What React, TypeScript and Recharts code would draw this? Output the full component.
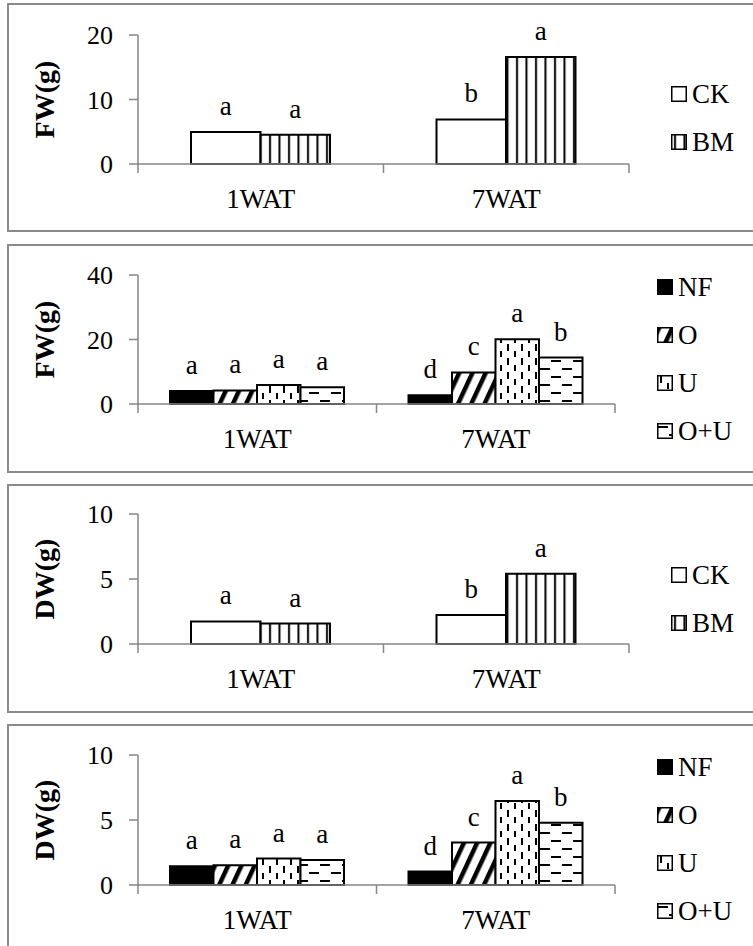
import React from "react";
import { BarChart, Bar, XAxis, YAxis, LabelList, Legend } from "recharts";

// categories
const weeks = ["1WAT", "7WAT"];

// fresh weight, CK vs BM
const fwCK = [4.95, 6.9];
const fwBM = [4.55, 16.6];
const fwCKLetters = ["a", "b"];
const fwBMLetters = ["a", "a"];

// fresh weight, fertiliser treatments
const fwNF = [4.0, 2.7];
const fwO = [4.2, 9.8];
const fwU = [5.9, 20.1];
const fwOU = [5.2, 14.4];

// dry weight, CK vs BM
const dwCK = [1.74, 2.24];
const dwBM = [1.57, 5.4];
const dwCKLetters = ["a", "b"];
const dwBMLetters = ["a", "a"];

// dry weight, fertiliser treatments
const dwNF = [1.44, 1.03];
const dwO = [1.51, 3.26];
const dwU = [2.03, 6.46];
const dwOU = [1.92, 4.79];

// significance letters shared by both fertiliser panels
const nfLetters = ["a", "d"];
const oLetters = ["a", "c"];
const uLetters = ["a", "a"];
const ouLetters = ["a", "b"];

const fwTicksA = [0, 10, 20];
const fwTicksB = [0, 20, 40];
const dwTicks = [0, 5, 10];

const FONT = "'Liberation Serif', 'Times New Roman', serif";
const AXIS = "#868686";
const CHART_W = 753;
const CHART_H = 227;
const XAXIS_H = 40;

const bmSeries = [
  { key: "CK", name: "CK", fill: "#fff" },
  { key: "BM", name: "BM", fill: "url(#pat-bm)" },
];
const fertSeries = [
  { key: "NF", name: "NF", fill: "#000" },
  { key: "O", name: "O", fill: "url(#pat-o)" },
  { key: "U", name: "U", fill: "url(#pat-u)" },
  { key: "OU", name: "O+U", fill: "url(#pat-ou)" },
];

const buildRows = (cols: Record<string, number[]>, letters: Record<string, string[]>) =>
  weeks.map((w, i) => {
    const row: Record<string, string | number> = { week: w };
    Object.keys(cols).forEach((k) => {
      row[k] = cols[k][i];
      row[k + "_l"] = letters[k][i];
    });
    return row;
  });

const rows1 = buildRows({ CK: fwCK, BM: fwBM }, { CK: fwCKLetters, BM: fwBMLetters });
const rows2 = buildRows(
  { NF: fwNF, O: fwO, U: fwU, OU: fwOU },
  { NF: nfLetters, O: oLetters, U: uLetters, OU: ouLetters }
);
const rows3 = buildRows({ CK: dwCK, BM: dwBM }, { CK: dwCKLetters, BM: dwBMLetters });
const rows4 = buildRows(
  { NF: dwNF, O: dwO, U: dwU, OU: dwOU },
  { NF: nfLetters, O: oLetters, U: uLetters, OU: ouLetters }
);

const Patterns = () => (
  <svg width={0} height={0} style={{ position: "absolute" }}>
    <defs>
      <pattern id="pat-bm" patternUnits="userSpaceOnUse" width={9.5} height={10}>
        <rect width={9.5} height={10} fill="#fff" />
        <rect x={3} width={2} height={10} fill="#000" />
      </pattern>
      <pattern id="pat-o" patternUnits="userSpaceOnUse" width={12} height={12} patternTransform="rotate(25)">
        <rect width={12} height={12} fill="#fff" />
        <rect x={0} width={4.5} height={12} fill="#000" />
      </pattern>
      <pattern id="pat-u" patternUnits="userSpaceOnUse" width={14} height={14}>
        <rect width={14} height={14} fill="#fff" />
        <rect x={3} y={1} width={2} height={7} fill="#000" />
        <rect x={10} y={8} width={2} height={6} fill="#000" />
      </pattern>
      <pattern id="pat-ou" patternUnits="userSpaceOnUse" width={22} height={16}>
        <rect width={22} height={16} fill="#fff" />
        <rect x={1} y={3} width={10} height={2} fill="#000" />
        <rect x={12} y={11} width={10} height={2} fill="#000" />
      </pattern>
    </defs>
  </svg>
);

const WeekTick = (props: any) => {
  const { x, y, payload, index, band } = props;
  const last = index === weeks.length - 1;
  return (
    <g>
      <line x1={x - band / 2} x2={x - band / 2} y1={y} y2={y + 9} stroke={AXIS} strokeWidth={1.5} />
      {last && <line x1={x + band / 2} x2={x + band / 2} y1={y} y2={y + 9} stroke={AXIS} strokeWidth={1.5} />}
      <text x={x} y={y + 44} textAnchor="middle" fontSize={27} fontFamily={FONT} fill="#000">
        {payload.value}
      </text>
    </g>
  );
};

const YTitle = (props: any) => {
  const { viewBox, text } = props;
  const cy = viewBox ? viewBox.y + viewBox.height / 2 : 100;
  return (
    <text
      transform={`translate(${54},${cy}) rotate(-90)`}
      textAnchor="middle"
      fontSize={28}
      fontWeight="bold"
      fontFamily={FONT}
      fill="#000"
    >
      {text}
    </text>
  );
};

const LegendBox = (props: any) => {
  const { series } = props;
  return (
    <div style={{ fontFamily: FONT, fontSize: 27, color: "#000" }}>
      {series.map((s: any) => (
        <div key={s.key} style={{ height: 48, display: "flex", alignItems: "center" }}>
          <svg width={16} height={16} style={{ marginRight: 5, flex: "none" }}>
            <rect x={0.75} y={0.75} width={14.5} height={14.5} fill={s.fill} stroke="#000" strokeWidth={1.5} />
          </svg>
          <span style={{ lineHeight: "30px" }}>{s.name}</span>
        </div>
      ))}
    </div>
  );
};

interface PanelProps {
  frameTop: number;
  plotTop: number;
  plotBottom: number;
  plotRight: number;
  barSize: number;
  legendLeft: number;
  rows: Record<string, string | number>[];
  series: { key: string; name: string; fill: string }[];
  ticks: number[];
  title: string;
}

const Panel = ({ frameTop, plotTop, plotBottom, plotRight, barSize, legendLeft, rows, series, ticks, title }: PanelProps) => {
  const left = 138;
  const band = (plotRight - left) / weeks.length;
  const margin = {
    top: plotTop - frameTop,
    right: CHART_W - plotRight,
    bottom: CHART_H - (plotBottom - frameTop) - XAXIS_H,
    left: 0,
  };
  return (
    <>
      <div
        style={{
          position: "absolute",
          left: 7,
          top: frameTop - 1,
          width: 800,
          height: 229,
          border: "2px solid #8a8a8a",
          boxSizing: "border-box",
        }}
      />
      <div style={{ position: "absolute", left: 0, top: frameTop }}>
        <BarChart width={CHART_W} height={CHART_H} data={rows} margin={margin} barGap={0} barSize={barSize}>
          <XAxis
            dataKey="week"
            axisLine={{ stroke: AXIS, strokeWidth: 1.5 }}
            tickLine={false}
            tickSize={0}
            tickMargin={0}
            height={XAXIS_H}
            interval={0}
            tick={<WeekTick band={band} />}
          />
          <YAxis
            type="number"
            domain={[ticks[0], ticks[ticks.length - 1]]}
            ticks={ticks}
            interval={0}
            width={left}
            axisLine={{ stroke: AXIS, strokeWidth: 1.5 }}
            tickLine={{ stroke: AXIS, strokeWidth: 1.5 }}
            tickSize={9}
            tickMargin={16}
            tick={{ fontSize: 26, fontFamily: FONT, fill: "#000" }}
            label={<YTitle text={title} />}
          />
          <Legend
            layout="vertical"
            align="center"
            verticalAlign="middle"
            wrapperStyle={{ left: legendLeft, width: 90 }}
            content={<LegendBox series={series} />}
          />
          {series.map((s) => (
            <Bar key={s.key} dataKey={s.key} name={s.name} fill={s.fill} stroke="#000" strokeWidth={2} isAnimationActive={false}>
              <LabelList dataKey={s.key + "_l"} position="top" offset={17} fontSize={27} fontFamily={FONT} fill="#000" />
            </Bar>
          ))}
        </BarChart>
      </div>
    </>
  );
};

export default function App() {
  return (
    <div style={{ position: "absolute", left: 0, top: 0, width: 753, height: 946, overflow: "hidden", background: "#fff" }}>
      <Patterns />
      <Panel frameTop={4} plotTop={35} plotBottom={164} plotRight={629} barSize={69.5} legendLeft={671}
        rows={rows1} series={bmSeries} ticks={fwTicksA} title="FW(g)" />
      <Panel frameTop={245} plotTop={275} plotBottom={404} plotRight={615} barSize={43.5} legendLeft={657}
        rows={rows2} series={fertSeries} ticks={fwTicksB} title="FW(g)" />
      <Panel frameTop={485} plotTop={514} plotBottom={644} plotRight={629} barSize={69.5} legendLeft={671}
        rows={rows3} series={bmSeries} ticks={dwTicks} title="DW(g)" />
      <Panel frameTop={725} plotTop={755} plotBottom={885} plotRight={615} barSize={43.5} legendLeft={657}
        rows={rows4} series={fertSeries} ticks={dwTicks} title="DW(g)" />
    </div>
  );
}
